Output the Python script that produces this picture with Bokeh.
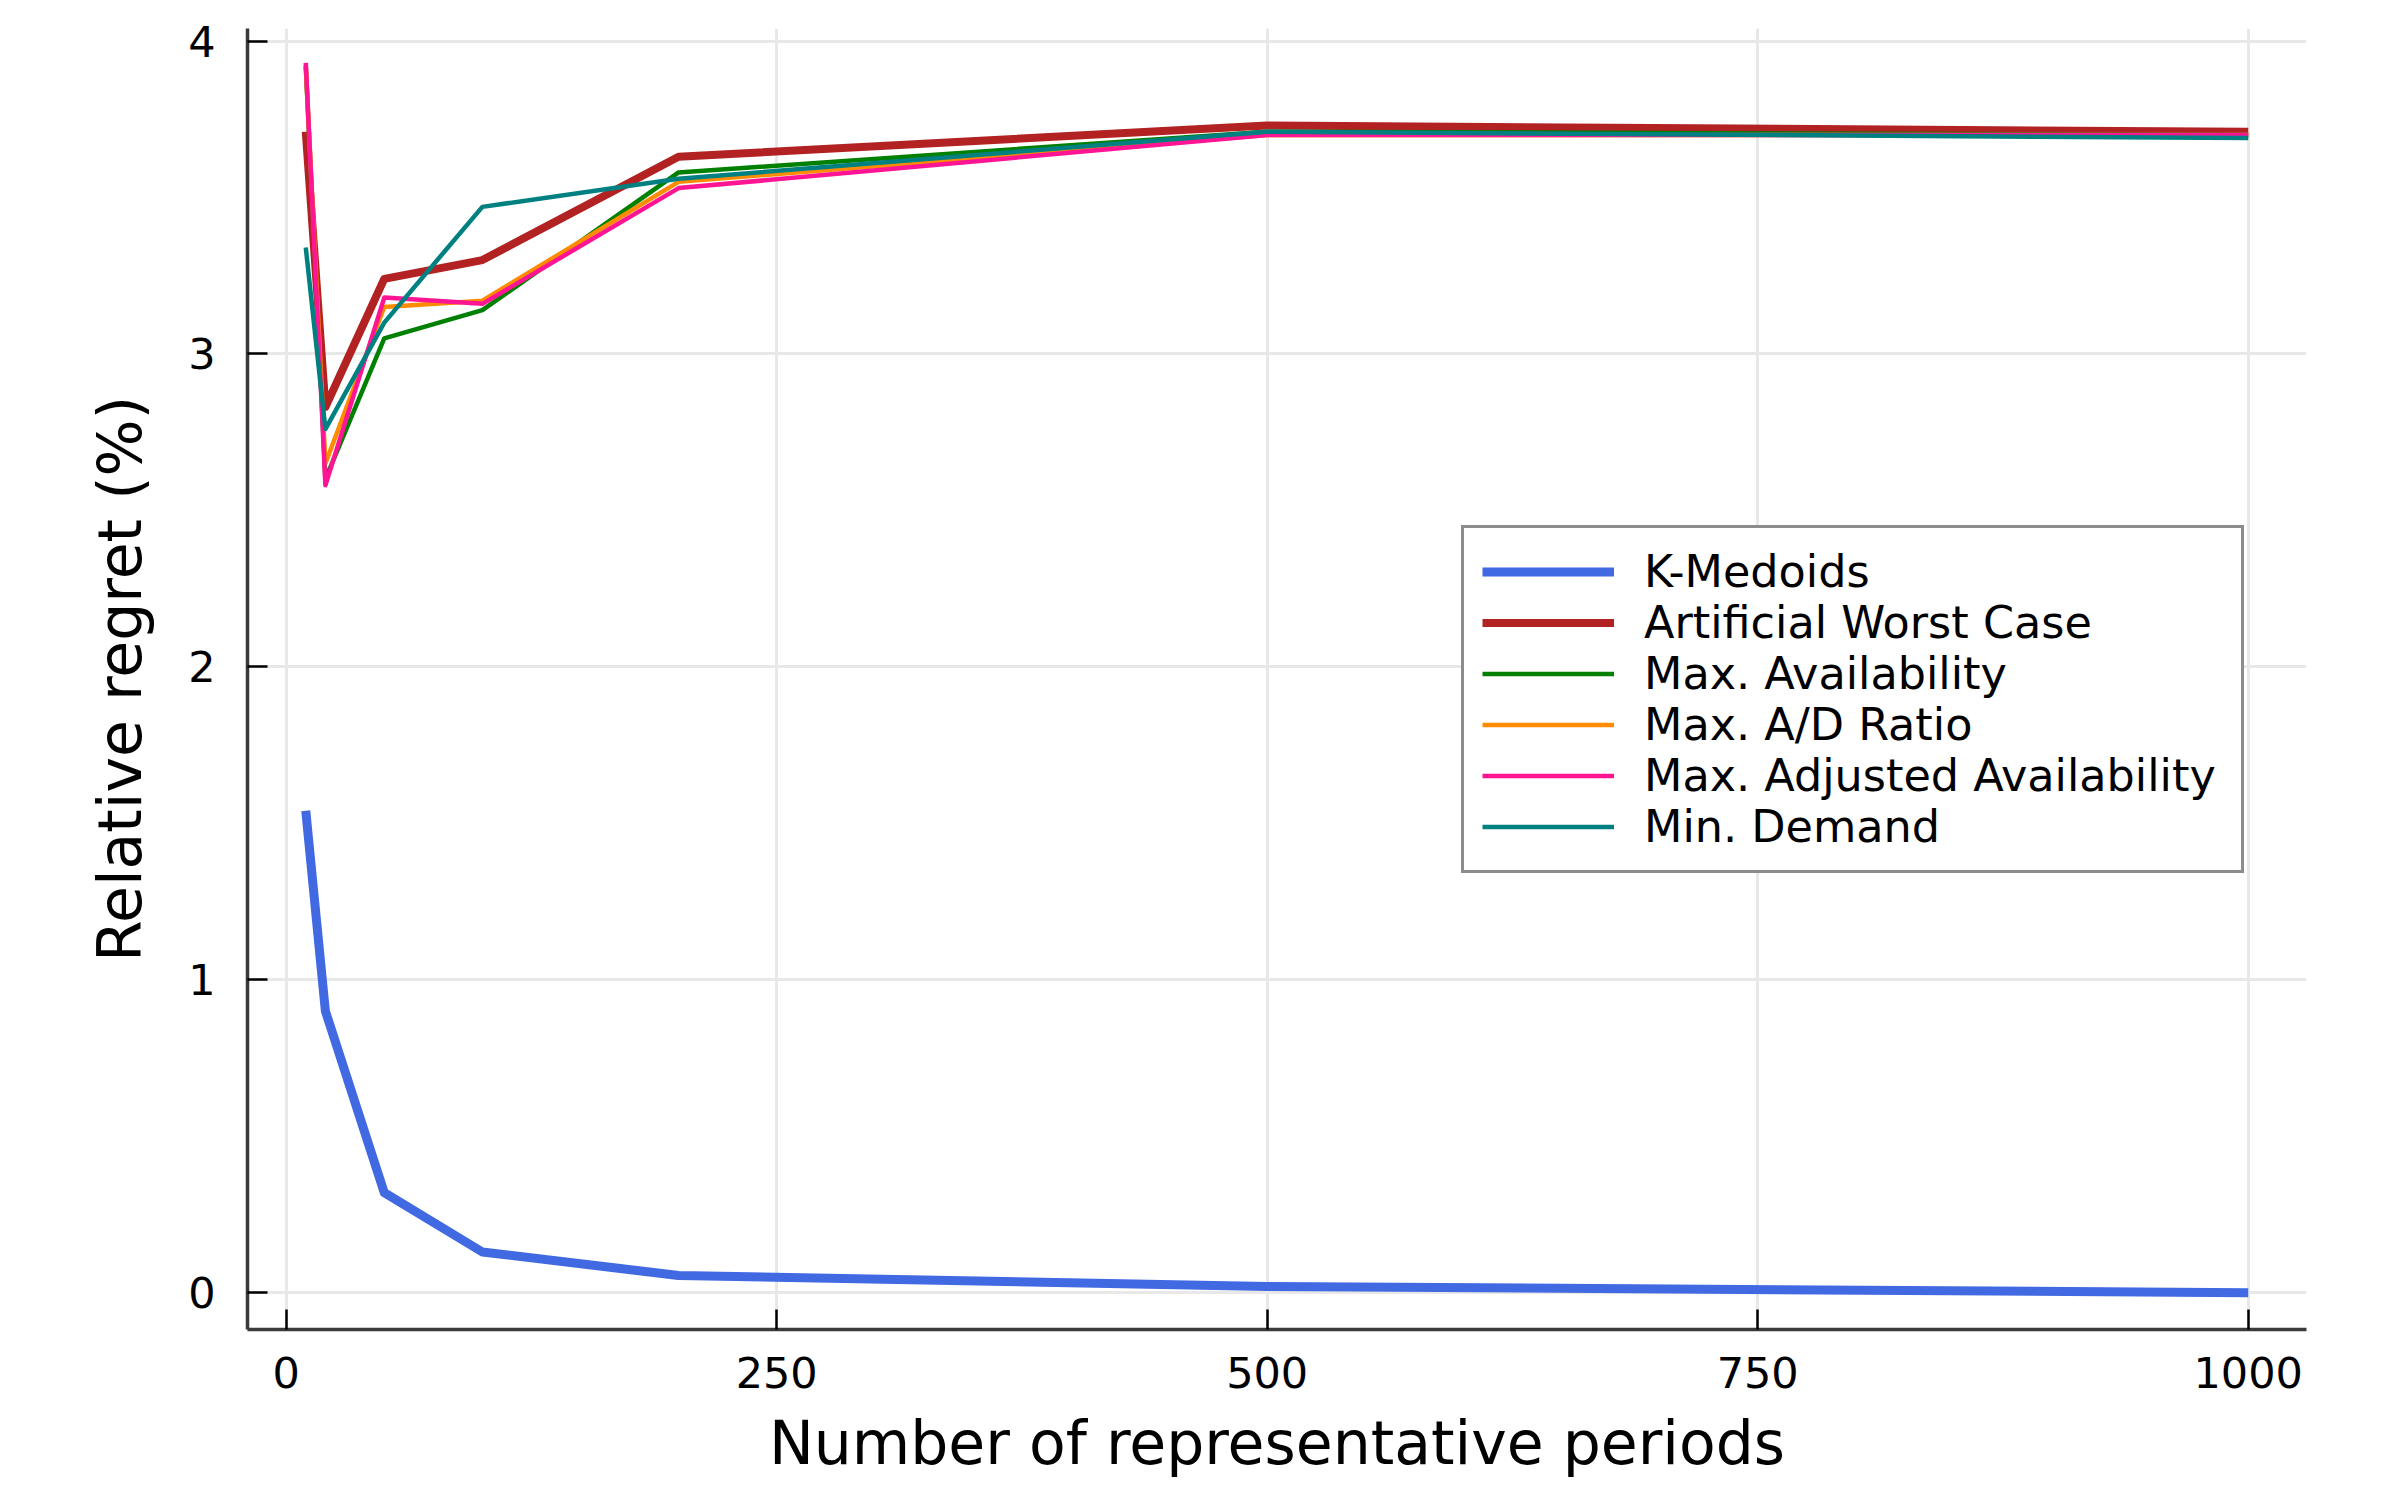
from bokeh.plotting import figure
from bokeh.models import Range1d, FixedTicker
from bokeh.embed import file_html
from bokeh.resources import INLINE

# Data
periods = [10, 20, 50, 100, 200, 500, 1000]
k_medoids = [1.54, 0.90, 0.32, 0.13, 0.055, 0.02, 0.0]
worst_case = [3.71, 2.83, 3.24, 3.30, 3.63, 3.73, 3.71]
max_avail = [3.92, 2.60, 3.05, 3.14, 3.58, 3.71, 3.70]
max_ad_ratio = [3.92, 2.65, 3.15, 3.17, 3.55, 3.70, 3.70]
max_adj_avail = [3.93, 2.58, 3.18, 3.16, 3.53, 3.70, 3.70]
min_demand = [3.34, 2.76, 3.10, 3.47, 3.56, 3.71, 3.69]

x_ticks = [0, 250, 500, 750, 1000]
y_ticks = [0, 1, 2, 3, 4]

FONT = "DejaVu Sans"

p = figure(frame_width=2059, frame_height=1301, output_backend="svg", toolbar_location=None,
           x_range=Range1d(-19.7, 1029.7), y_range=Range1d(-0.1176, 4.04),
           min_border_left=247, min_border_top=28, min_border_right=72, min_border_bottom=100)
p.outline_line_color = None
p.background_fill_color = "white"
p.border_fill_color = "white"

series = [
    ("K-Medoids", k_medoids, "#4169E1", 9),
    ("Artificial Worst Case", worst_case, "#B22222", 8),
    ("Max. Availability", max_avail, "#008000", 4.5),
    ("Max. A/D Ratio", max_ad_ratio, "#FF8C00", 4.5),
    ("Max. Adjusted Availability", max_adj_avail, "#FF1493", 4.5),
    ("Min. Demand", min_demand, "#008080", 4.5),
]
for name, ys, col, lw in series:
    p.line(periods, ys, line_color=col, line_width=lw, legend_label=name, line_join="round")

for ax, ticks in ((p.xaxis, x_ticks), (p.yaxis, y_ticks)):
    ax.ticker = FixedTicker(ticks=ticks)
    ax.axis_line_color = "#3a3a3a"
    ax.axis_line_width = 3.5
    ax.major_tick_line_color = "black"
    ax.major_tick_line_width = 2.5
    ax.major_tick_in = 20
    ax.major_tick_out = 0
    ax.minor_tick_line_color = None
    ax.major_label_text_font = FONT
    ax.major_label_text_font_size = "43px"
    ax.major_label_text_color = "black"
    ax.axis_label_text_font = FONT
    ax.axis_label_text_font_size = "60px"
    ax.axis_label_text_font_style = "normal"
    ax.axis_label_text_color = "black"

p.xaxis.axis_label = "Number of representative periods"
p.yaxis.axis_label = "Relative regret (%)"
p.xaxis.major_label_standoff = 27
p.xaxis.axis_label_standoff = 17
p.yaxis.major_label_standoff = 32
p.yaxis.axis_label_standoff = 30

p.grid.grid_line_color = "#e8e8e8"
p.grid.grid_line_width = 3

leg = p.legend[0]
leg.location = (1214, 456)
leg.margin = 0
leg.padding = 18
leg.spacing = 0
leg.glyph_width = 132
leg.glyph_height = 49
leg.label_height = 49
leg.label_standoff = 30
leg.label_width = 579
leg.label_text_font = FONT
leg.label_text_font_size = "44.5px"
leg.label_text_color = "black"
leg.border_line_color = "#1a1a1a"
leg.border_line_width = 3
leg.background_fill_color = "white"
leg.background_fill_alpha = 1.0

open("out.html", "w").write(file_html(p, INLINE))
